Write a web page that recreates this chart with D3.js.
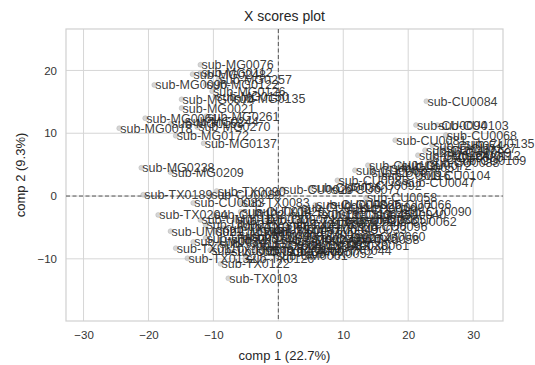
<!DOCTYPE html>
<html>
<head>
<meta charset="utf-8">
<script src="https://cdn.jsdelivr.net/npm/d3@7"></script>
<style>
  body { margin: 0; background: #fff; }
  text { font-family: "Liberation Sans", Arial, sans-serif; }
</style>
</head>
<body>
<div id="chart"></div>
<script>
// sample scores
const sampleIds = [
  'sub-MG0076', 'sub-MG0248', 'sub-MG0112', 'sub-MG0257', 'sub-MG0090', 'sub-MG0122', 'sub-MG0126',
  'sub-MG0135', 'sub-MG0074', 'sub-MG0150', 'sub-MG0021', 'sub-MG0061', 'sub-MG0261', 'sub-MG0018',
  'sub-MG0270', 'sub-MG0158', 'sub-MG0244', 'sub-MG0172', 'sub-MG0137', 'sub-MG0238', 'sub-MG0209',
  'sub-TX0189', 'sub-TX0090', 'sub-CU0089', 'sub-CU0083', 'sub-TX0083', 'sub-TX0204', 'sub-CU0102',
  'sub-UM0021', 'sub-UM0034', 'sub-TX0110', 'sub-TX0132', 'sub-TX0122', 'sub-TX0103',
  'sub-UM0015', 'sub-UM0040', 'sub-TX0141', 'sub-TX0066', 'sub-UM0008', 'sub-TX0047', 'sub-CU0071',
  'sub-TX0157', 'sub-UM0027', 'sub-TX0019', 'sub-TX0175', 'sub-UM0052', 'sub-TX0088', 'sub-CU0014',
  'sub-TX0034', 'sub-UM0019', 'sub-TX0095', 'sub-UM0061', 'sub-TX0126',
  'sub-UM0011', 'sub-TX0151', 'sub-UM0030', 'sub-TX0079', 'sub-UM0048', 'sub-TX0163', 'sub-UM0057',
  'sub-TX0029', 'sub-UM0003', 'sub-TX0117', 'sub-UM0024', 'sub-TX0184', 'sub-UM0049',
  'sub-CU0058', 'sub-CU0090', 'sub-CU0057', 'sub-CU0096', 'sub-CU0060', 'sub-TX0038', 'sub-TX0052',
  'sub-CU0025', 'sub-CU0019', 'sub-CU0113', 'sub-TX0071', 'sub-CU0033', 'sub-UM0045', 'sub-CU0011',
  'sub-TX0061', 'sub-CU0040', 'sub-CU0066', 'sub-UM0033', 'sub-CU0120',
  'sub-CU0008', 'sub-CU0045', 'sub-CU0097', 'sub-UM0037', 'sub-TX0058', 'sub-TX0044', 'sub-UM0055',
  'sub-CU0062',
  'sub-CU0084', 'sub-CU0094', 'sub-CU0103', 'sub-CU0081', 'sub-CU0068', 'sub-CU0135', 'sub-CU0074',
  'sub-CU0107', 'sub-CU0080', 'sub-CU0124', 'sub-CU0099', 'sub-CU0118', 'sub-CU0104', 'sub-CU0063',
  'sub-CU0047', 'sub-CU0085', 'sub-CU0036', 'sub-CU0029', 'sub-CU0092', 'sub-CU0116', 'sub-CU0051',
  'sub-CU0109', 'sub-CU0077', 'sub-CU0127', 'sub-CU0112', 'sub-CU0088', 'sub-CU0072', 'sub-CU0075'
];
const comp1 = [
  -12.0, -13.2, -12.0, -9.2, -19.1, -11.2, -10.2,
  -7.1, -14.9, -9.7, -14.9, -20.5, -11.1, -24.5,
  -12.5, -16.6, -14.3, -15.8, -11.5, -21.1, -16.6,
  -20.8, -9.5, -10.5, -13.1, -5.8, -18.5, -10.0,
  -16.6, -13.1, -15.8, -14.0, -8.9, -7.7,
  -11.2, -9.7, -7.4, -5.8, -4.3, -2.8, -2.0,
  -1.2, 0.3, 1.8, 1.1, 2.6, 3.4, -5.8,
  -3.5, -7.4, -10.5, -0.5, -5.1,
  -12.0, -8.6, -6.6, -4.6, -2.5, -0.9, 1.1,
  -3.5, -11.2, -9.2, -6.2, 2.6, 4.2,
  13.5, 18.8, 12.9, 12.0, 11.7, 6.2, 4.0,
  8.0, 10.3, 6.5, 4.9, 8.8, 7.2, 3.4,
  9.5, 14.9, 15.7, 10.3, 4.9,
  5.7, 9.5, 12.6, 8.0, 11.1, 6.8, 1.8,
  16.5,
  22.8, 21.2, 24.5, 18.0, 25.8, 28.5, 23.7,
  22.6, 23.7, 21.5, 24.9, 13.8, 21.7, 11.8,
  19.4, 9.1, 4.9, 0.6, 11.1, 15.7, 17.2,
  27.2, 8.0, 25.7, 26.5, 23.1, 18.8, 14.2
];
const comp2 = [
  20.9, 19.4, 19.6, 18.6, 17.7, 17.8, 16.7,
  15.6, 15.4, 15.8, 14.0, 12.4, 12.7, 10.8,
  11.0, 11.5, 11.8, 9.6, 8.4, 4.5, 3.8,
  0.2, 0.8, 0.2, -1.1, -1.1, -3.0, -3.0,
  -5.6, -7.3, -8.3, -9.9, -10.8, -13.1,
  -4.6, -5.7, -7.0, -4.8, -6.4, -7.8, -3.8,
  -5.7, -7.0, -3.0, -4.6, -6.2, -7.8, -2.5,
  -8.9, -8.9, -8.6, -9.4, -9.9,
  -3.8, -5.1, -3.8, -7.8, -5.4, -8.3, -8.9,
  -2.5, -6.7, -7.6, -6.1, -4.1, -5.4,
  -0.3, -2.5, -3.8, -4.9, -6.5, -7.8, -9.1,
  -1.4, -2.2, -3.0, -4.6, -5.4, -6.7, -1.9,
  -7.8, -3.0, -1.4, -3.8, -6.7,
  -1.4, -3.0, -1.9, -4.1, -7.0, -8.6, -7.3,
  -4.1,
  15.1, 11.3, 11.3, 8.9, 9.7, 8.3, 8.1,
  7.3, 6.1, 6.5, 7.0, 4.9, 3.3, 4.1,
  2.1, 2.5, 1.3, 1.1, 1.6, 3.2, 4.5,
  5.7, 1.0, 7.6, 6.5, 5.4, 4.9, 3.8
];
const xTicks = [-30, -20, -10, 0, 10, 20, 30];
const yTicks = [-10, 0, 10, 20];

const width = 535;
const height = 365;
const margin = { top: 29, right: 32, bottom: 44, left: 66 };

const svg = d3.select('#chart')
  .append('svg')
  .attr('width', width)
  .attr('height', height);

const x = d3.scaleLinear()
  .domain([-32.7, 34.6])
  .range([margin.left, width - margin.right]);

const y = d3.scaleLinear()
  .domain([-19.9, 26.6])
  .range([height - margin.bottom, margin.top]);

// grid
svg.append('g')
  .selectAll('line')
  .data(xTicks)
  .join('line')
  .attr('x1', d => x(d)).attr('x2', d => x(d))
  .attr('y1', margin.top).attr('y2', height - margin.bottom)
  .attr('stroke', '#d6d6d6')
  .attr('stroke-width', 1);

svg.append('g')
  .selectAll('line')
  .data(yTicks)
  .join('line')
  .attr('x1', margin.left).attr('x2', width - margin.right)
  .attr('y1', d => y(d)).attr('y2', d => y(d))
  .attr('stroke', '#d6d6d6')
  .attr('stroke-width', 1);

// frame
svg.append('rect')
  .attr('x', margin.left)
  .attr('y', margin.top)
  .attr('width', width - margin.left - margin.right)
  .attr('height', height - margin.top - margin.bottom)
  .attr('fill', 'none')
  .attr('stroke', '#d0d0d0')
  .attr('stroke-width', 1.2);

// axes (labels only, whitegrid style)
const fmt = d => d3.format('d')(d).replace('-', '\u2212');

const xAxis = svg.append('g')
  .attr('transform', `translate(0,${height - margin.bottom})`)
  .call(d3.axisBottom(x).tickValues(xTicks).tickSize(0).tickPadding(10).tickFormat(fmt));
xAxis.select('.domain').remove();
xAxis.selectAll('text').attr('font-size', 11.5).attr('fill', '#333');

const yAxis = svg.append('g')
  .attr('transform', `translate(${margin.left},0)`)
  .call(d3.axisLeft(y).tickValues(yTicks).tickSize(0).tickPadding(9).tickFormat(fmt));
yAxis.select('.domain').remove();
yAxis.selectAll('text').attr('font-size', 11.5).attr('fill', '#333');

// zero reference lines
svg.append('line')
  .attr('x1', x(0)).attr('x2', x(0))
  .attr('y1', margin.top).attr('y2', height - margin.bottom)
  .attr('stroke', '#555')
  .attr('stroke-dasharray', '4,2.5')
  .attr('stroke-width', 1);

svg.append('line')
  .attr('x1', margin.left).attr('x2', width - margin.right)
  .attr('y1', y(0)).attr('y2', y(0))
  .attr('stroke', '#555')
  .attr('stroke-dasharray', '4,2.5')
  .attr('stroke-width', 1);

const points = sampleIds.map((id, i) => ({ id, c1: comp1[i], c2: comp2[i] }));

svg.append('g')
  .selectAll('circle')
  .data(points)
  .join('circle')
  .attr('cx', d => x(d.c1))
  .attr('cy', d => y(d.c2))
  .attr('r', 2.5)
  .attr('fill', '#bbb')
  .attr('fill-opacity', 0.6)
  .attr('stroke', '#999')
  .attr('stroke-opacity', 0.5)
  .attr('stroke-width', 0.6);

svg.append('g')
  .selectAll('text')
  .data(points)
  .join('text')
  .attr('x', d => x(d.c1) + 1)
  .attr('y', d => y(d.c2) + 4.5)
  .attr('font-size', 12.5)
  .attr('fill', '#262626')
  .attr('fill-opacity', 0.9)
  .text(d => d.id);

// titles
svg.append('text')
  .attr('x', (margin.left + width - margin.right) / 2)
  .attr('y', 21)
  .attr('text-anchor', 'middle')
  .attr('font-size', 14)
  .attr('fill', '#262626')
  .text('X scores plot');

svg.append('text')
  .attr('x', (margin.left + width - margin.right) / 2)
  .attr('y', 360)
  .attr('text-anchor', 'middle')
  .attr('font-size', 13)
  .attr('fill', '#262626')
  .text('comp 1 (22.7%)');

svg.append('text')
  .attr('transform', `translate(25,${(margin.top + height - margin.bottom) / 2}) rotate(-90)`)
  .attr('text-anchor', 'middle')
  .attr('font-size', 13)
  .attr('fill', '#262626')
  .text('comp 2 (9.3%)');
</script>
</body>
</html>
